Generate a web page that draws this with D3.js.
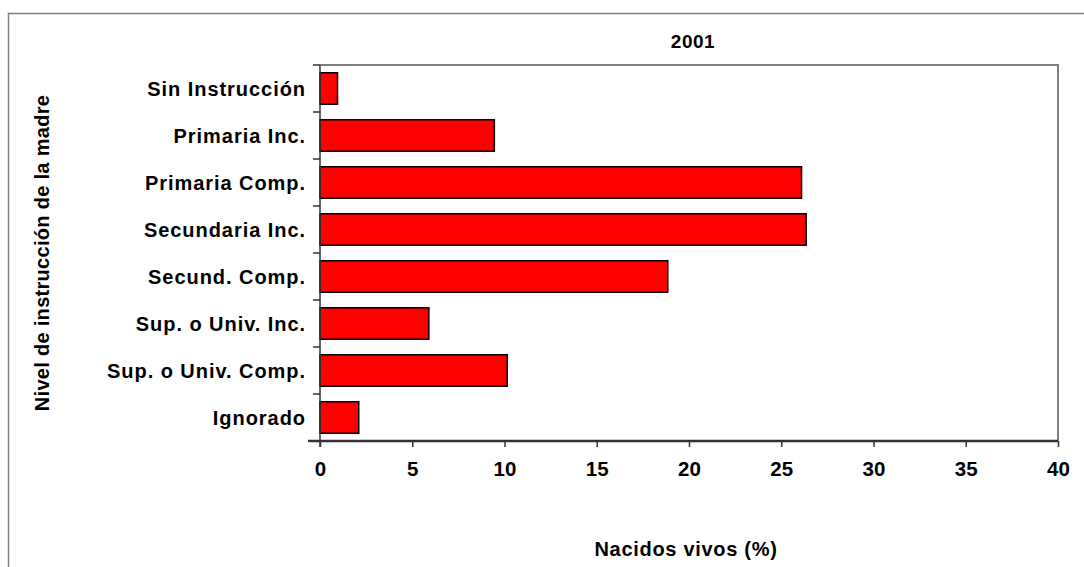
<!DOCTYPE html>
<html>
<head>
<meta charset="utf-8">
<script src="https://cdn.jsdelivr.net/npm/d3@7"></script>
<style>
body { margin: 0; background: #fff; }
#vis { width: 1084px; height: 567px; }
text { font-family: "Liberation Sans", Arial, sans-serif; font-weight: bold; fill: #000; }
</style>
</head>
<body>
<div id="vis"></div>
<script>
var width = 1084;
var height = 567;

// data
var categories = ['Sin Instrucción', 'Primaria Inc.', 'Primaria Comp.', 'Secundaria Inc.',
    'Secund. Comp.', 'Sup. o Univ. Inc.', 'Sup. o Univ. Comp.', 'Ignorado'];
var values = [0.95, 9.45, 26.1, 26.35, 18.85, 5.9, 10.15, 2.1];
var xTicks = [0, 5, 10, 15, 20, 25, 30, 35, 40];
var title = '2001';
var xTitle = 'Nacidos vivos (%)';
var yTitle = 'Nivel de instrucción de la madre';

var margin = { top: 65, bottom: 126, left: 320, right: 26 };

var svg = d3.select('#vis')
    .append('svg')
    .attr('width', width)
    .attr('height', height);

// outer chart frame (runs off right and bottom)
svg.append('path')
    .attr('d', 'M8.5,' + height + 'V13.5H' + (width + 2))
    .attr('fill', 'none')
    .attr('stroke', '#808080')
    .attr('stroke-width', 1.5);

var w = width - margin.left - margin.right;
var h = height - margin.top - margin.bottom;

var g = svg.append('g')
    .attr('transform', 'translate(' + margin.left + ',' + margin.top + ')');

var x_scale = d3.scaleLinear()
    .domain([0, 40])
    .range([0, w]);

var y_scale = d3.scaleBand()
    .domain(categories)
    .range([0, h])
    .paddingInner(0.33)
    .paddingOuter(0.165);

// plot border top + right
g.append('path')
    .attr('d', 'M0,0H' + w + 'V' + h)
    .attr('fill', 'none')
    .attr('stroke', '#808080')
    .attr('stroke-width', 2);

// bars
g.selectAll('.bar')
    .data(values)
    .enter()
    .append('rect')
    .attr('class', 'bar')
    .attr('x', 0)
    .attr('y', function(d, i) { return y_scale(categories[i]); })
    .attr('width', function(d) { return x_scale(d); })
    .attr('height', y_scale.bandwidth())
    .attr('fill', '#ff0000')
    .attr('stroke', '#000')
    .attr('stroke-width', 1.5);

// y axis: ticks on band boundaries
var step = y_scale.step();
var bounds = d3.range(categories.length + 1).map(function(i) { return i * step; });
g.selectAll('.ytick')
    .data(bounds)
    .enter()
    .append('line')
    .attr('x1', -7)
    .attr('x2', 0)
    .attr('y1', function(d) { return d; })
    .attr('y2', function(d) { return d; })
    .attr('stroke', '#333')
    .attr('stroke-width', 1.5);

g.append('line')
    .attr('x1', 0).attr('x2', 0)
    .attr('y1', 0).attr('y2', h + 6)
    .attr('stroke', '#333')
    .attr('stroke-width', 1.5);

g.selectAll('.ylabel')
    .data(categories)
    .enter()
    .append('text')
    .attr('class', 'ylabel')
    .attr('x', -14)
    .attr('y', function(d) { return y_scale(d) + y_scale.bandwidth() / 2; })
    .attr('dy', '0.36em')
    .attr('text-anchor', 'end')
    .style('font-size', '20px')
    .style('letter-spacing', '0.95px')
    .text(function(d) { return d; });

// x axis
var x_axis = d3.axisBottom(x_scale)
    .tickValues(xTicks)
    .tickSize(6)
    .tickPadding(14)
    .tickFormat(d3.format('d'));

var xa = g.append('g')
    .attr('class', 'x axis')
    .attr('transform', 'translate(0,' + h + ')')
    .call(x_axis);

xa.select('.domain')
    .attr('d', 'M-12,0H' + w)
    .attr('stroke', '#333')
    .attr('stroke-width', 2.5);
xa.selectAll('.tick line')
    .attr('stroke', '#333')
    .attr('stroke-width', 1.5);
xa.selectAll('.tick text')
    .style('font-size', '20.5px')
    .style('font-family', '"Liberation Sans", Arial, sans-serif')
    .style('font-weight', 'bold')
    .attr('fill', '#000');

// titles
svg.append('text')
    .attr('x', margin.left + w / 2 + 4)
    .attr('y', 48)
    .attr('text-anchor', 'middle')
    .style('font-size', '19px')
    .style('letter-spacing', '0.5px')
    .text(title);

svg.append('text')
    .attr('x', 686)
    .attr('y', 556)
    .attr('text-anchor', 'middle')
    .style('font-size', '20px')
    .style('letter-spacing', '0.7px')
    .text(xTitle);

svg.append('text')
    .attr('transform', 'translate(49,' + (margin.top + h / 2) + ') rotate(-90)')
    .attr('text-anchor', 'middle')
    .style('font-size', '20px')
    .style('letter-spacing', '0.3px')
    .text(yTitle);
</script>
</body>
</html>
